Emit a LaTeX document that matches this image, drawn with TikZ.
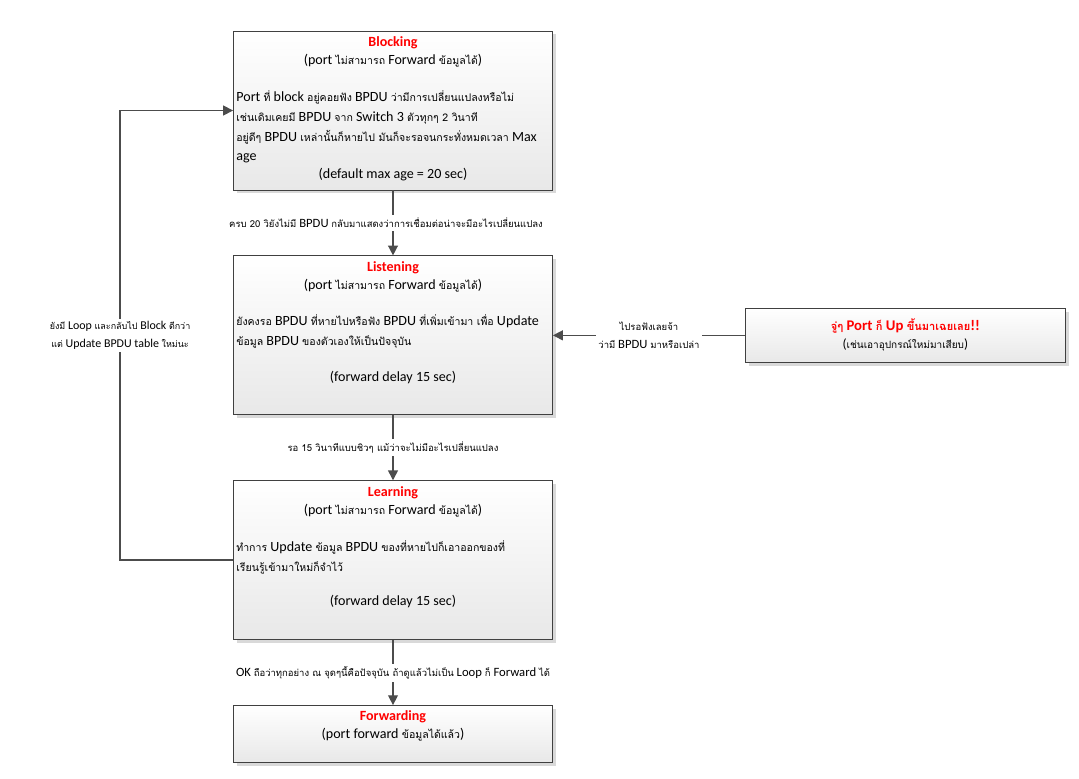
\documentclass[tikz,border=0pt]{standalone}
\usepackage{fontspec}
\setmainfont{Carlito}
\newfontfamily\thaifont[Script=Thai,Scale=0.75]{Loma}
\newcommand{\tht}[1]{{\thaifont #1}}
\usetikzlibrary{shapes,arrows.meta,calc,positioning,shadows}

\begin{document}
\begin{tikzpicture}[node distance=1.625cm, >={Triangle[length=7pt,width=7pt]},
  font=\fontsize{10}{14}\selectfont]
\tikzset{state/.style = {draw=black!75, line width=.6pt, rectangle,
  minimum width=7.975cm, minimum height=3.975cm,
  top color=white, bottom color=black!9,
  drop shadow={shadow xshift=.08cm, shadow yshift=-.08cm, fill=black!15, opacity=1}},
  title/.style = {text=red, font=\fontsize{10}{12}\selectfont\bfseries, inner sep=0pt},
  txt/.style = {inner sep=0pt, align=left},
  line/.style = {draw=black!70, line width=1pt},
  lab/.style = {fill=white, align=center, inner sep=2pt,
    font=\fontsize{9}{12.5}\selectfont}}

  \useasboundingbox (0,0) rectangle (26.975,-19.475);

  \node[state] (blocking) at (9.825,-2.7625) {};
  \node[state, below=of blocking] (listening) {};
  \node[state, below=of listening] (learning) {};
  \node[state, below=of learning, minimum height=1.425cm] (forwarding) {};
  \node[state, right=4.8cm of listening, minimum width=8cm,
    minimum height=1.35cm] (portup) {};

  % blocking
  \node[title] (blockingt) at ([yshift=-.3cm]blocking.north) {Blocking};
  \node[txt] (blockings) at ([yshift=-.75cm]blocking.north)
    {(port \tht{ไม่สามารถ} Forward \tht{ข้อมูลได้})};
  \node[txt, anchor=north west] (blockingb)
    at ([xshift=.075cm, yshift=-1.5cm]blocking.north west)
    {Port \tht{ที่} block \tht{อยู่คอยฟัง} BPDU \tht{ว่ามีการเปลี่ยนแปลงหรือไม่}\\
     \tht{เช่นเดิมเคยมี} BPDU \tht{จาก} Switch 3 \tht{ตัวทุกๆ 2 วินาที}\\
     \tht{อยู่ดีๆ} BPDU \tht{เหล่านั้นก็หายไป มันก็จะรอจนกระทั่งหมดเวลา} Max\\
     age};
  \node[txt] (blockingf) at ([yshift=-3.6cm]blocking.north)
    {(default max age = 20 sec)};

  % listening
  \node[title] (listeningt) at ([yshift=-.3cm]listening.north) {Listening};
  \node[txt] (listenings) at ([yshift=-.75cm]listening.north)
    {(port \tht{ไม่สามารถ} Forward \tht{ข้อมูลได้})};
  \node[txt, anchor=north west] (listeningb)
    at ([xshift=.075cm, yshift=-1.475cm]listening.north west)
    {\tht{ยังคงรอ} BPDU \tht{ที่หายไปหรือฟัง} BPDU \tht{ที่เพิ่มเข้ามา เพื่อ} Update\\
     \tht{ข้อมูล} BPDU \tht{ของตัวเองให้เป็นปัจจุบัน}};
  \node[txt] (listeningf) at ([yshift=-3.05cm]listening.north)
    {(forward delay 15 sec)};

  % learning
  \node[title] (learningt) at ([yshift=-.3cm]learning.north) {Learning};
  \node[txt] (learnings) at ([yshift=-.75cm]learning.north)
    {(port \tht{ไม่สามารถ} Forward \tht{ข้อมูลได้})};
  \node[txt, anchor=north west] (learningb)
    at ([xshift=.075cm, yshift=-1.5cm]learning.north west)
    {\tht{ทำการ} Update \tht{ข้อมูล} BPDU \tht{ของที่หายไปก็เอาออกของที่}\\
     \tht{เรียนรู้เข้ามาใหม่ก็จำไว้}};
  \node[txt] (learningf) at ([yshift=-3.025cm]learning.north)
    {(forward delay 15 sec)};

  % forwarding
  \node[title] (forwardingt) at ([yshift=-.3cm]forwarding.north) {Forwarding};
  \node[txt] (forwardings) at ([yshift=-.75cm]forwarding.north)
    {(port forward \tht{ข้อมูลได้แล้ว})};

  % port up
  \node[title, font=\fontsize{10.5}{12}\selectfont\bfseries] (portupt)
    at ([yshift=-.45cm]portup.north)
    {\tht{จู่ๆ} Port \tht{ก็} Up \tht{ขึ้นมาเฉยเลย}!!};
  \node[txt, font=\fontsize{9.5}{11}\selectfont] (portups)
    at ([yshift=-.925cm]portup.north) {(\tht{เช่นเอาอุปกรณ์ใหม่มาเสียบ})};

  % connectors
  \draw[line,->] (blocking) -- node[lab, xshift=-.175cm] (lab1)
    {\tht{ครบ 20 วิยังไม่มี} BPDU \tht{กลับมาแสดงว่าการเชื่อมต่อน่าจะมีอะไรเปลี่ยนแปลง}}
    (listening);
  \draw[line,->] (listening) -- node[lab] (lab2)
    {\tht{รอ 15 วินาทีแบบชิวๆ แม้ว่าจะไม่มีอะไรเปลี่ยนแปลง}} (learning);
  \draw[line,->] (learning) -- node[lab] (lab3)
    {OK \tht{ถือว่าทุกอย่าง ณ จุดๆนี้คือปัจจุบัน ถ้าดูแล้วไม่เป็น} Loop \tht{ก็} Forward \tht{ได้}}
    (forwarding);
  \draw[line,->] (portup) -- node[lab] (lab4)
    {\tht{ไปรอฟังเลยจ้า}\\\tht{ว่ามี} BPDU \tht{มาหรือเปล่า}} (listening);

  \coordinate[left=2.825cm of learning.west] (loopb);
  \draw[line,->] (learning.west) -- (loopb)
    -- node[lab, font=\fontsize{8.5}{12.5}\selectfont] (lab5)
    {\tht{ยังมี} Loop \tht{และกลับไป} Block \tht{ดีกว่า}\\
     \tht{แต่} Update BPDU table \tht{ใหม่นะ}}
    (loopb |- blocking.west) -- (blocking.west);

\end{tikzpicture}
\end{document}
